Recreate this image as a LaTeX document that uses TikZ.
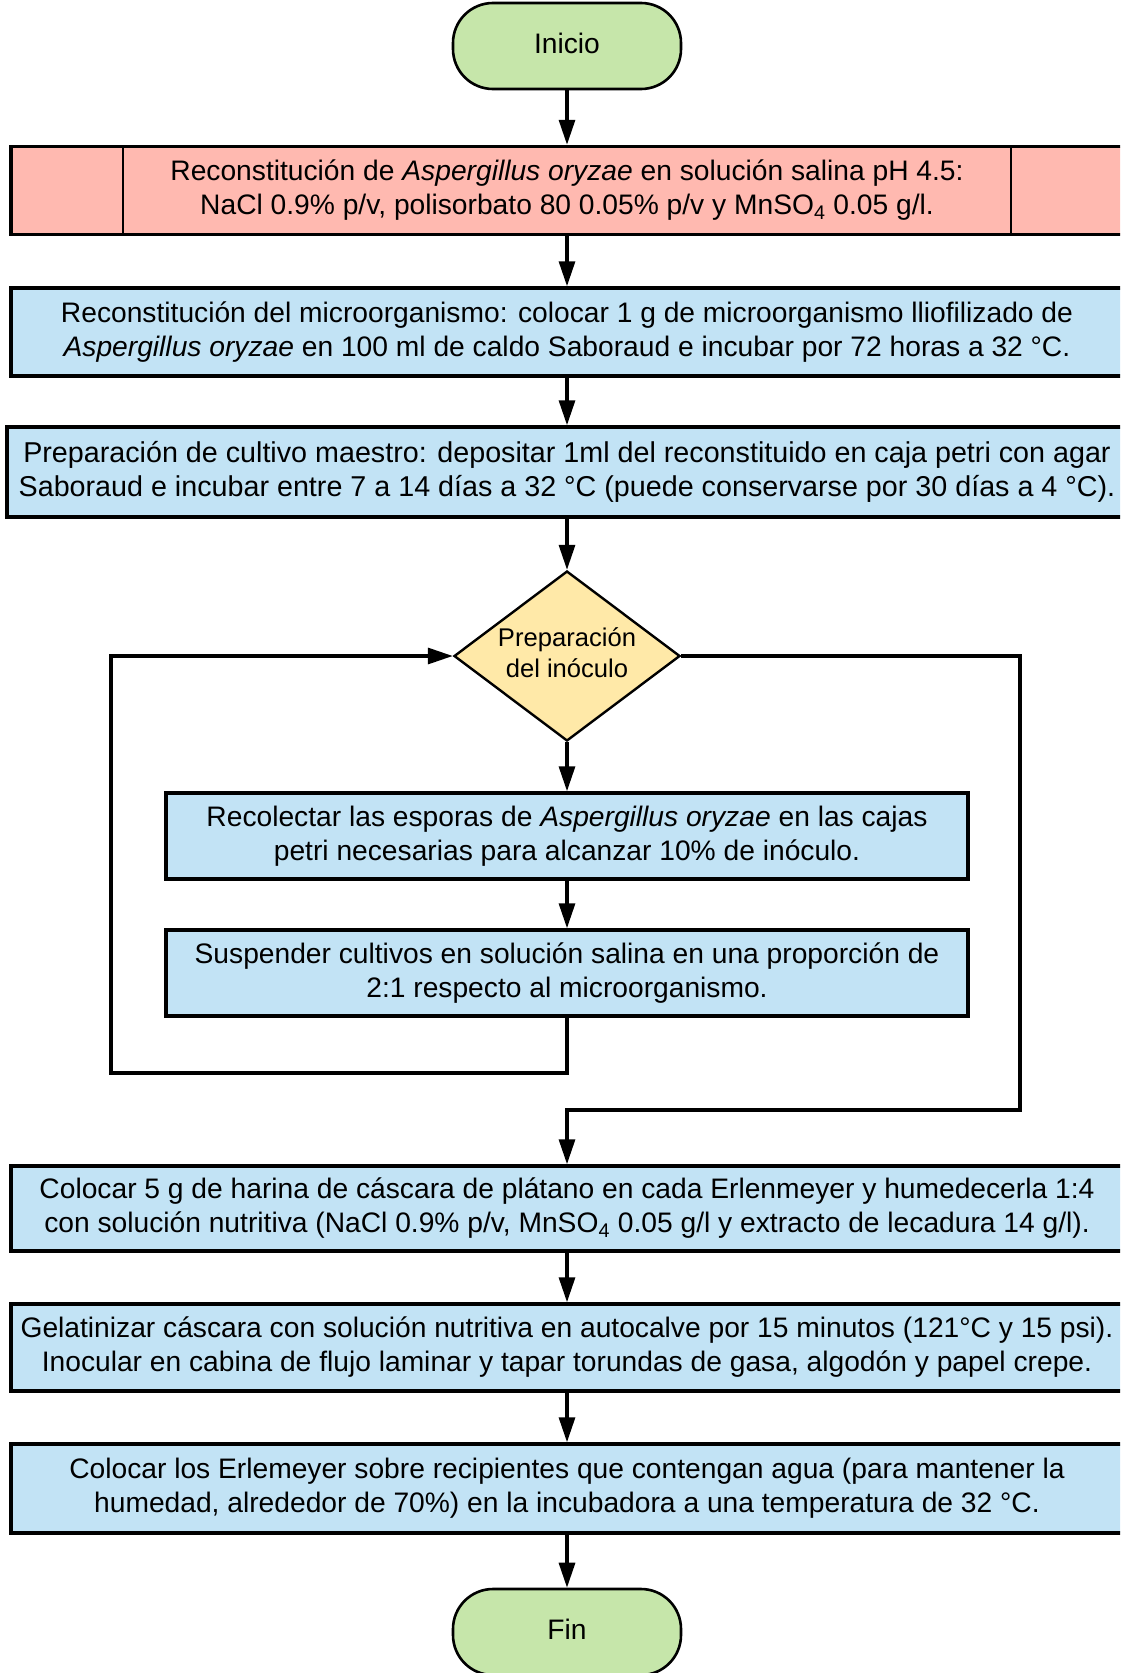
\documentclass[tikz,border=0pt]{standalone}
\usepackage{fontspec}
\setmainfont{Liberation Sans}
\usetikzlibrary{arrows.meta,shapes.geometric}

\definecolor{termfill}{HTML}{C6E6AA}
\definecolor{redfill}{HTML}{FFB9B0}
\definecolor{bluefill}{HTML}{C2E3F5}
\definecolor{decfill}{HTML}{FFE9A8}

\tikzset{
  txt/.style={font=\fontsize{28.2}{34}\selectfont, align=center, inner sep=0pt},
  terminal/.style={txt, draw, line width=2.6pt, fill=termfill, rounded corners=40pt,
    minimum width=228pt, minimum height=86pt, text height=20pt, text depth=5pt},
  procbox/.style={txt, draw, line width=3.5pt, fill=bluefill, minimum height=88pt},
  widebox/.style={procbox, minimum width=1112pt},
  innerbox/.style={procbox, minimum width=802pt, minimum height=86pt},
  predef/.style={procbox, fill=redfill, minimum width=1112pt},
  decision/.style={draw, diamond, line width=2.4pt, fill=decfill, aspect=1.33,
    minimum width=226pt, minimum height=170pt, inner sep=0pt},
  dectext/.style={font=\fontsize{25.6}{31}\selectfont, align=center, yshift=3pt},
  arr/.style={line width=3.2pt, -{Triangle[length=25pt,width=16pt]}}
}

\begin{document}
\begin{tikzpicture}[x=1pt, y=-1pt]
\clip (0,0) rectangle (1120,1673);
\useasboundingbox (0,0) rectangle (1120,1673);

% start terminal
\node[terminal] (inicio) at (567,46) {Inicio};

% predefined process with side bars
\node[predef] (b1) at (567,190.5)
  {Reconstitución de \textit{Aspergillus oryzae} en solución salina pH 4.5:\\
   NaCl 0.9\% p/v, polisorbato 80 0.05\% p/v y MnSO\textsubscript{4} 0.05 g/l.};
\draw[line width=2pt] (123,147) -- (123,234);
\draw[line width=2pt] (1011,147) -- (1011,234);

\node[widebox] (b2) at (567,332)
  {Reconstitución del microorganismo: colocar 1 g de microorganismo lliofilizado de\\
   \textit{Aspergillus oryzae} en 100 ml de caldo Saboraud e incubar por 72 horas a 32 °C.};

\node[widebox, minimum width=1120pt, minimum height=90pt, font=\fontsize{28.7}{34}\selectfont] (b3) at (567,472)
  {Preparación de cultivo maestro: depositar 1ml del reconstituido en caja petri con agar\\
   Saboraud e incubar entre 7 a 14 días a 32 °C (puede conservarse por 30 días a 4 °C).};

% inoculum decision
\node[decision, label={[dectext]center:{Preparación\\del inóculo}}] (dec) at (567,656) {};

\node[innerbox] (b4) at (567,836)
  {Recolectar las esporas de \textit{Aspergillus oryzae} en las cajas\\
   petri necesarias para alcanzar 10\% de inóculo.};

\node[innerbox] (b5) at (567,973)
  {Suspender cultivos en solución salina en una proporción de\\
   2:1 respecto al microorganismo.};

\node[widebox, minimum height=85pt] (b6) at (567,1208.5)
  {Colocar 5 g de harina de cáscara de plátano en cada Erlenmeyer y humedecerla 1:4\\
   con solución nutritiva (NaCl 0.9\% p/v, MnSO\textsubscript{4} 0.05 g/l y extracto de lecadura 14 g/l).};

\node[widebox, minimum height=87pt] (b7) at (567,1347.5)
  {Gelatinizar cáscara con solución nutritiva en autocalve por 15 minutos (121°C y 15 psi).\\
   Inocular en cabina de flujo laminar y tapar torundas de gasa, algodón y papel crepe.};

\node[widebox, minimum height=89pt] (b8) at (567,1488.5)
  {Colocar los Erlemeyer sobre recipientes que contengan agua (para mantener la\\
   humedad, alrededor de 70\%) en la incubadora a una temperatura de 32 °C.};

% end terminal
\node[terminal] (fin) at (567,1632) {Fin};

% loop corners
\coordinate (loopL) at (111,1073);
\coordinate (loopR) at (1020,1110);

% connectors
\draw[arr] (inicio.south) -- (b1.north);
\draw[arr] (b1.south) -- (b2.north);
\draw[arr] (b2.south) -- (b3.north);
\draw[arr] (b3.south) -- (dec.north);
\draw[arr] (dec.south) -- (b4.north);
\draw[arr] (b4.south) -- (b5.north);
\draw[arr] (b5.south) |- (loopL) |- (dec.west);
\draw[arr] (dec.east) -| (loopR) -| (b6.north);
\draw[arr] (b6.south) -- (b7.north);
\draw[arr] (b7.south) -- (b8.north);
\draw[arr] (b8.south) -- (fin.north);
\end{tikzpicture}
\end{document}
